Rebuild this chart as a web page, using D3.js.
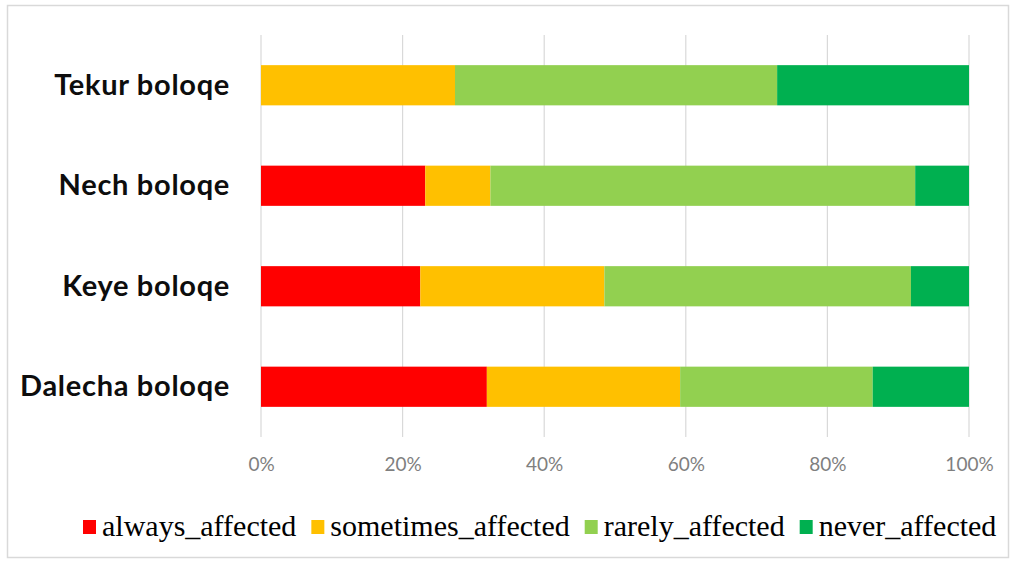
<!DOCTYPE html>
<html>
<head>
<meta charset="utf-8">
<script src="https://cdn.jsdelivr.net/npm/d3@7/dist/d3.min.js"></script>
<style>
  html, body { margin: 0; padding: 0; background: #fff; }
  svg { display: block; }
</style>
</head>
<body>
<svg id="chart" width="1016" height="561"></svg>
<script>
// Share of respondents by how often they are affected, per kebele
const categories = ["Tekur boloqe", "Nech boloqe", "Keye boloqe", "Dalecha boloqe"];
const seriesNames = ["always_affected", "sometimes_affected", "rarely_affected", "never_affected"];
const alwaysAffected    = [0.0,  23.2, 22.5, 31.9];
const sometimesAffected = [27.4,  9.2, 26.0, 27.3];
const rarelyAffected    = [45.5, 60.0, 43.3, 27.2];
const neverAffected     = [27.1,  7.6,  8.2, 13.6];
const tickValues = [0, 0.2, 0.4, 0.6, 0.8, 1.0];
const colors = ["#FF0000", "#FFC000", "#92D050", "#00B050"];

const rows = categories.map((c, i) => ({
  category: c,
  always_affected: alwaysAffected[i],
  sometimes_affected: sometimesAffected[i],
  rarely_affected: rarelyAffected[i],
  never_affected: neverAffected[i]
}));

const svg = d3.select("#chart");
const plot = { left: 261, right: 969, top: 35, bottom: 437 };

// outer frame
svg.append("rect")
  .attr("x", 7.5).attr("y", 5.5)
  .attr("width", 1001).attr("height", 552)
  .attr("fill", "#fff")
  .attr("stroke", "#D9D9D9").attr("stroke-width", 1.5);

const x = d3.scaleLinear().domain([0, 1]).range([plot.left, plot.right]);
const y = d3.scaleBand().domain(categories).range([plot.top, plot.bottom]).paddingInner(0.6).paddingOuter(0.3);

// vertical gridlines
svg.append("g")
  .selectAll("line")
  .data(tickValues)
  .join("line")
  .attr("x1", d => x(d)).attr("x2", d => x(d))
  .attr("y1", plot.top).attr("y2", plot.bottom)
  .attr("stroke", "#D9D9D9").attr("stroke-width", 1.2);

// stacked bars (values are percentages of respondents)
const stack = d3.stack().keys(seriesNames).value((d, k) => d[k] / 100);
const layers = stack(rows);

svg.append("g")
  .selectAll("g")
  .data(layers)
  .join("g")
  .attr("fill", (d, i) => colors[i])
  .selectAll("rect")
  .data(d => d)
  .join("rect")
  .attr("x", d => x(d[0]))
  .attr("width", d => Math.max(0, x(d[1]) - x(d[0])))
  .attr("y", d => y(d.data.category))
  .attr("height", y.bandwidth());

// x axis tick labels
const xAxis = d3.axisBottom(x)
  .tickValues(tickValues)
  .tickFormat(d3.format(".0%"))
  .tickSize(0)
  .tickPadding(0);

const gx = svg.append("g")
  .attr("transform", `translate(0, ${plot.bottom + 20})`)
  .call(xAxis);
gx.select(".domain").remove();
gx.selectAll("text")
  .attr("font-family", "Lato, 'Open Sans', sans-serif")
  .attr("font-size", 19)
  .attr("fill", "#7F7F7F");

// category axis labels
const yAxis = d3.axisLeft(y).tickSize(0).tickPadding(31);
const gy = svg.append("g")
  .attr("transform", `translate(${plot.left}, 0)`)
  .call(yAxis);
gy.select(".domain").remove();
gy.selectAll("text")
  .attr("font-family", "Lato, 'Open Sans', sans-serif")
  .attr("font-weight", "bold")
  .attr("font-size", 29)
  .attr("letter-spacing", 0.7)
  .attr("fill", "#0D0D0D");

// legend
const legend = svg.append("g").attr("transform", "translate(83, 0)");
let lx = 0;
seriesNames.forEach((name, i) => {
  const item = legend.append("g").attr("transform", `translate(${lx}, 0)`);
  item.append("rect")
    .attr("x", 0).attr("y", 520)
    .attr("width", 13).attr("height", 14)
    .attr("fill", colors[i]);
  const t = item.append("text")
    .attr("x", 19).attr("y", 536)
    .attr("font-family", "'Liberation Serif', 'Times New Roman', serif")
    .attr("font-size", 30)
    .attr("fill", "#000")
    .text(name);
  lx += 19 + t.node().getComputedTextLength() + 15;
});
</script>
</body>
</html>
